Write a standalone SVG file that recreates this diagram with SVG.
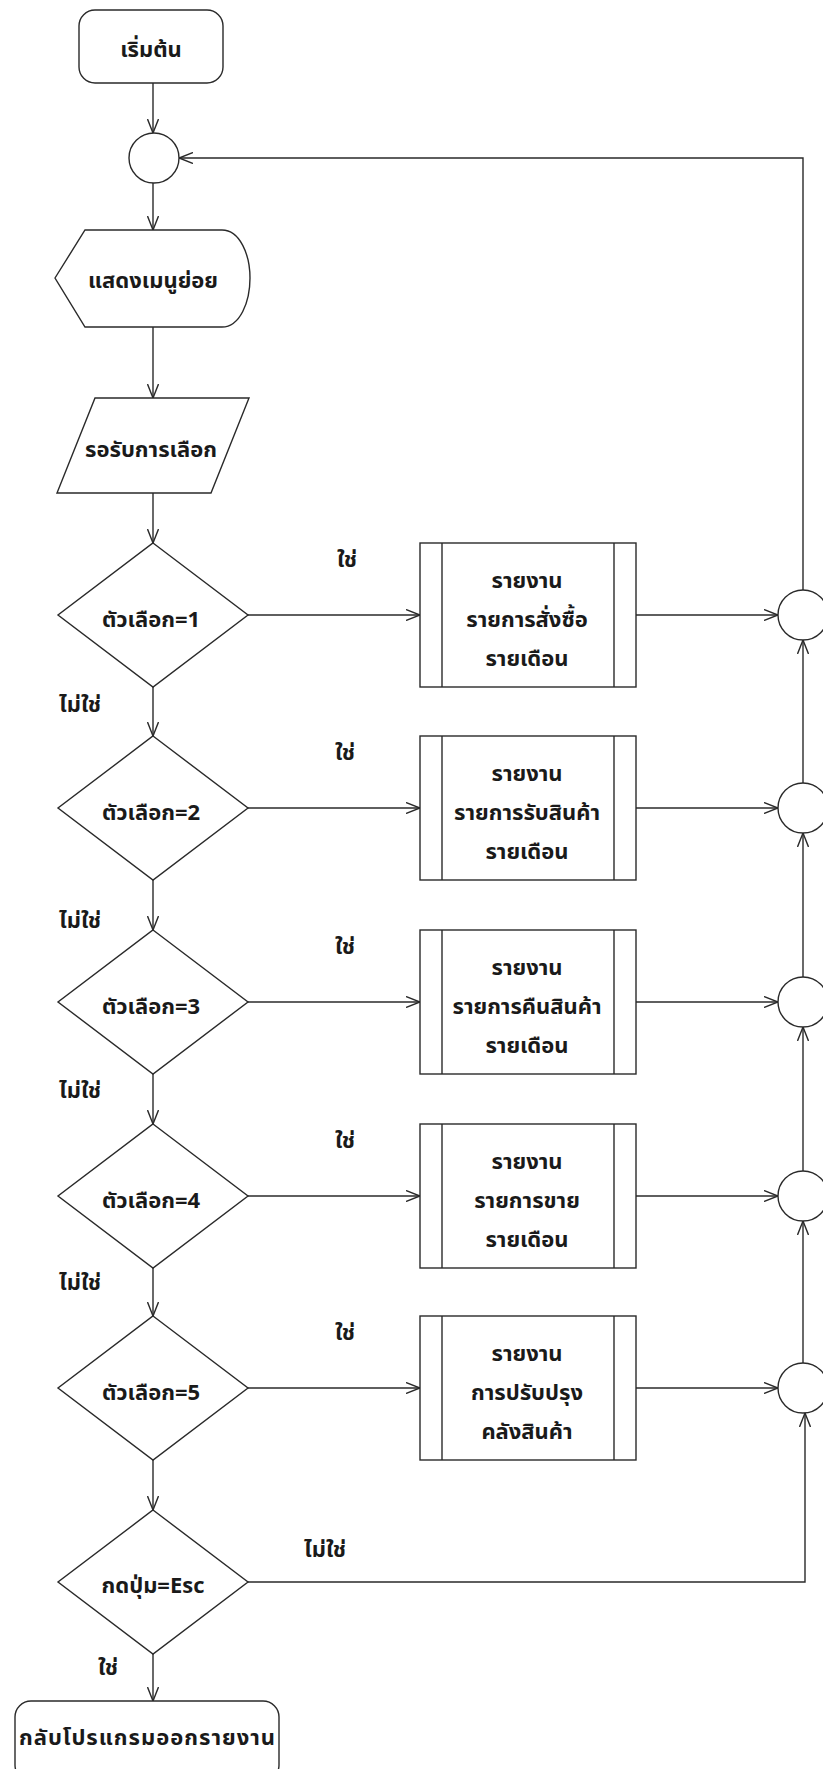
<svg xmlns="http://www.w3.org/2000/svg" width="823" height="1769" viewBox="0 0 823 1769">
<style>
.s{fill:#fff;stroke:#2a2a2a;stroke-width:1.4}
.l{fill:none;stroke:#2a2a2a;stroke-width:1.4}
text{font-family:"Noto Sans Thai","Noto Sans","DejaVu Sans",sans-serif;font-size:22px;font-weight:bold;fill:#1a1a1a;text-anchor:middle}
</style>
<defs>
<marker id="arr" viewBox="0 0 14 12" refX="14" refY="6" markerWidth="14" markerHeight="12" markerUnits="userSpaceOnUse" orient="auto">
<path d="M0,0.5 L14,6 L0,11.5" fill="none" stroke="#2a2a2a" stroke-width="1.4"/>
</marker>
</defs>
<rect width="823" height="1769" fill="#fff"/>

<g id="connectors" class="l" marker-end="url(#arr)">
<line x1="153" y1="83" x2="153" y2="133"/>
<line x1="153" y1="183" x2="153" y2="230"/>
<line x1="153" y1="327" x2="153" y2="398"/>
<line x1="153" y1="493" x2="153" y2="543"/>
<line x1="153" y1="687" x2="153" y2="736"/>
<line x1="153" y1="880" x2="153" y2="930"/>
<line x1="153" y1="1074" x2="153" y2="1124"/>
<line x1="153" y1="1268" x2="153" y2="1316"/>
<line x1="153" y1="1460" x2="153" y2="1510"/>
<line x1="153" y1="1654" x2="153" y2="1701"/>
<line x1="248" y1="615" x2="420" y2="615"/>
<line x1="248" y1="808" x2="420" y2="808"/>
<line x1="248" y1="1002" x2="420" y2="1002"/>
<line x1="248" y1="1196" x2="420" y2="1196"/>
<line x1="248" y1="1388" x2="420" y2="1388"/>
<line x1="636" y1="615" x2="778" y2="615"/>
<line x1="636" y1="808" x2="778" y2="808"/>
<line x1="636" y1="1002" x2="778" y2="1002"/>
<line x1="636" y1="1196" x2="778" y2="1196"/>
<line x1="636" y1="1388" x2="778" y2="1388"/>
<line x1="803" y1="783" x2="803" y2="640"/>
<line x1="803" y1="977" x2="803" y2="833"/>
<line x1="803" y1="1171" x2="803" y2="1027"/>
<line x1="803" y1="1363" x2="803" y2="1221"/>
<polyline points="803,590 803,158 179,158"/>
<polyline points="248,1582 805,1582 805,1413"/>
</g>

<g id="start"><rect class="s" x="79" y="10" width="144" height="73" rx="16"/><text x="151" y="57">เริ่มต้น</text></g>
<g id="connector-top"><circle class="s" cx="154" cy="158" r="25"/></g>
<g id="display"><path class="s" d="M55,278 L85,230 L222,230 C240,230 250,255 250,278 C250,302 240,327 222,327 L85,327 Z"/><text x="153" y="288">แสดงเมนูย่อย</text></g>
<g id="input"><polygon class="s" points="95,398 249,398 211,493 57,493"/><text x="151" y="457">รอรับการเลือก</text></g>

<g id="decision1"><polygon class="s" points="153,543 248,615 153,687 58,615"/><text x="151" y="627">ตัวเลือก=1</text></g>
<g id="decision2"><polygon class="s" points="153,736 248,808 153,880 58,808"/><text x="151" y="820">ตัวเลือก=2</text></g>
<g id="decision3"><polygon class="s" points="153,930 248,1002 153,1074 58,1002"/><text x="151" y="1014">ตัวเลือก=3</text></g>
<g id="decision4"><polygon class="s" points="153,1124 248,1196 153,1268 58,1196"/><text x="151" y="1208">ตัวเลือก=4</text></g>
<g id="decision5"><polygon class="s" points="153,1316 248,1388 153,1460 58,1388"/><text x="151" y="1400">ตัวเลือก=5</text></g>
<g id="decision-esc"><polygon class="s" points="153,1510 248,1582 153,1654 58,1582"/><text x="153" y="1593">กดปุ่ม=Esc</text></g>

<g id="report1"><rect class="s" x="420" y="543" width="216" height="144"/><line class="l" x1="442" y1="543" x2="442" y2="687"/><line class="l" x1="614" y1="543" x2="614" y2="687"/>
<text x="527" y="588">รายงาน</text><text x="527" y="627">รายการสั่งซื้อ</text><text x="527" y="666">รายเดือน</text></g>
<g id="report2"><rect class="s" x="420" y="736" width="216" height="144"/><line class="l" x1="442" y1="736" x2="442" y2="880"/><line class="l" x1="614" y1="736" x2="614" y2="880"/>
<text x="527" y="781">รายงาน</text><text x="527" y="820">รายการรับสินค้า</text><text x="527" y="859">รายเดือน</text></g>
<g id="report3"><rect class="s" x="420" y="930" width="216" height="144"/><line class="l" x1="442" y1="930" x2="442" y2="1074"/><line class="l" x1="614" y1="930" x2="614" y2="1074"/>
<text x="527" y="975">รายงาน</text><text x="527" y="1014">รายการคืนสินค้า</text><text x="527" y="1053">รายเดือน</text></g>
<g id="report4"><rect class="s" x="420" y="1124" width="216" height="144"/><line class="l" x1="442" y1="1124" x2="442" y2="1268"/><line class="l" x1="614" y1="1124" x2="614" y2="1268"/>
<text x="527" y="1169">รายงาน</text><text x="527" y="1208">รายการขาย</text><text x="527" y="1247">รายเดือน</text></g>
<g id="report5"><rect class="s" x="420" y="1316" width="216" height="144"/><line class="l" x1="442" y1="1316" x2="442" y2="1460"/><line class="l" x1="614" y1="1316" x2="614" y2="1460"/>
<text x="527" y="1361">รายงาน</text><text x="527" y="1400">การปรับปรุง</text><text x="527" y="1439">คลังสินค้า</text></g>

<g id="join1"><circle class="s" cx="803" cy="615" r="25"/></g>
<g id="join2"><circle class="s" cx="803" cy="808" r="25"/></g>
<g id="join3"><circle class="s" cx="803" cy="1002" r="25"/></g>
<g id="join4"><circle class="s" cx="803" cy="1196" r="25"/></g>
<g id="join5"><circle class="s" cx="803" cy="1388" r="25"/></g>

<g id="end"><rect class="s" x="15" y="1701" width="264" height="80" rx="16"/><text x="147" y="1745" textLength="256" lengthAdjust="spacing">กลับโปรแกรมออกรายงาน</text></g>

<g id="labels">
<text x="347" y="567">ใช่</text>
<text x="345" y="760">ใช่</text>
<text x="345" y="954">ใช่</text>
<text x="345" y="1148">ใช่</text>
<text x="345" y="1340">ใช่</text>
<text x="80" y="712">ไม่ใช่</text>
<text x="80" y="928">ไม่ใช่</text>
<text x="80" y="1098">ไม่ใช่</text>
<text x="80" y="1290">ไม่ใช่</text>
<text x="325" y="1557">ไม่ใช่</text>
<text x="108" y="1675">ใช่</text>
</g>
</svg>
